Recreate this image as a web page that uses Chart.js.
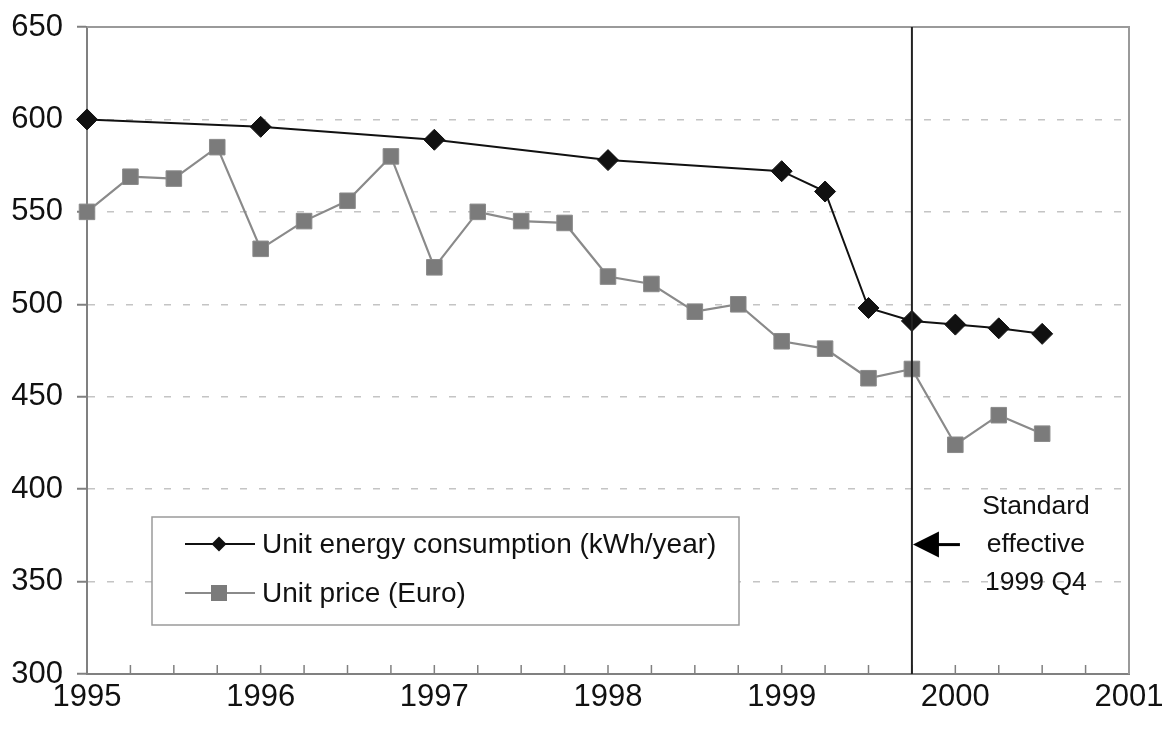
<!DOCTYPE html>
<html>
<head>
<meta charset="utf-8">
<script src="https://cdn.jsdelivr.net/npm/chart.js@4/dist/chart.umd.min.js"></script>
<style>
  html, body { margin: 0; padding: 0; background: #fff; }
  #wrap { width: 1162px; height: 731px; }
</style>
</head>
<body>
<div id="wrap"><canvas id="ctx" width="1162" height="731"></canvas></div>
<script>
// unit energy consumption (kWh/year)
const consumptionX = [1995, 1996, 1997, 1998, 1999, 1999.25, 1999.5, 1999.75, 2000, 2000.25, 2000.5];
const consumptionKwh = [600, 596, 589, 578, 572, 561, 498, 491, 489, 487, 484];

// unit price (Euro), quarterly
const priceX = [1995, 1995.25, 1995.5, 1995.75, 1996, 1996.25, 1996.5, 1996.75,
  1997, 1997.25, 1997.5, 1997.75, 1998, 1998.25, 1998.5, 1998.75,
  1999, 1999.25, 1999.5, 1999.75, 2000, 2000.25, 2000.5];
const priceEuro = [550, 569, 568, 585, 530, 545, 556, 580,
  520, 550, 545, 544, 515, 511, 496, 500,
  480, 476, 460, 465, 424, 440, 430];

const yearTicks = [1995, 1996, 1997, 1998, 1999, 2000, 2001];
const valueTicks = [300, 350, 400, 450, 500, 550, 600, 650];

const standardDate = 1999.75;
const arrowValue = 370;
const standardNote = ['Standard', 'effective', '1999 Q4'];

const FONT = '"Liberation Sans", Arial, sans-serif';
Chart.defaults.font.family = FONT;

// box round the plot, quarter ticks, standard line, arrow, note and legend
const extras = {
  id: 'extras',
  afterDatasetsDraw(chart) {
    const { ctx, chartArea: a, scales: { x, y } } = chart;
    ctx.save();
    ctx.strokeStyle = '#9a9a9a';
    ctx.lineWidth = 2;
    ctx.beginPath();
    ctx.moveTo(a.left, a.top);
    ctx.lineTo(a.right, a.top);
    ctx.lineTo(a.right, a.bottom);
    ctx.stroke();

    // quarter ticks pointing up into the plot
    ctx.strokeStyle = '#808080';
    ctx.lineWidth = 1.5;
    for (let q = x.min + 0.25; q < x.max; q += 0.25) {
      const px = x.getPixelForValue(q);
      ctx.beginPath();
      ctx.moveTo(px, a.bottom);
      ctx.lineTo(px, a.bottom - 9);
      ctx.stroke();
    }

    // standard line
    const sx = x.getPixelForValue(standardDate);
    ctx.strokeStyle = '#222';
    ctx.lineWidth = 2;
    ctx.beginPath();
    ctx.moveTo(sx, a.top);
    ctx.lineTo(sx, a.bottom);
    ctx.stroke();

    // arrow
    const ay = y.getPixelForValue(arrowValue);
    ctx.fillStyle = '#000';
    ctx.beginPath();
    ctx.moveTo(sx + 1, ay);
    ctx.lineTo(sx + 27, ay - 13);
    ctx.lineTo(sx + 27, ay + 13);
    ctx.closePath();
    ctx.fill();
    ctx.fillRect(sx + 26, ay - 1.5, 22, 3);

    // note
    ctx.font = '26.5px ' + FONT;
    ctx.textAlign = 'center';
    ctx.textBaseline = 'middle';
    ctx.fillStyle = '#111';
    standardNote.forEach((t, i) => ctx.fillText(t, sx + 124, ay + (i - 1) * 38));

    // legend box
    const bx = 152, by = 517, bw = 587, bh = 108;
    ctx.fillStyle = '#fff';
    ctx.fillRect(bx, by, bw, bh);
    ctx.strokeStyle = '#9a9a9a';
    ctx.lineWidth = 1.5;
    ctx.strokeRect(bx, by, bw, bh);
    ctx.font = '28px ' + FONT;
    ctx.textAlign = 'left';
    chart.data.datasets.forEach((ds, i) => {
      const ly = by + 27 + i * 49;
      ctx.strokeStyle = ds.borderColor;
      ctx.lineWidth = 2;
      ctx.beginPath();
      ctx.moveTo(bx + 33, ly);
      ctx.lineTo(bx + 103, ly);
      ctx.stroke();
      const mx = bx + 67;
      ctx.fillStyle = ds.backgroundColor;
      ctx.beginPath();
      if (ds.pointStyle === 'rectRot') {
        ctx.moveTo(mx - 7.5, ly); ctx.lineTo(mx, ly - 7.5);
        ctx.lineTo(mx + 7.5, ly); ctx.lineTo(mx, ly + 7.5);
      } else {
        ctx.rect(mx - 8, ly - 8, 16, 16);
      }
      ctx.closePath();
      ctx.fill();
      ctx.fillStyle = '#111';
      ctx.fillText(ds.label, bx + 110, ly + 1);
    });
    ctx.restore();
  }
};

new Chart(document.getElementById('ctx'), {
  type: 'line',
  data: {
    datasets: [{
      label: 'Unit energy consumption (kWh/year)',
      data: consumptionX.map((v, i) => ({ x: v, y: consumptionKwh[i] })),
      borderColor: '#111',
      backgroundColor: '#111',
      borderWidth: 2,
      pointStyle: 'rectRot',
      pointRadius: 10.5,
      pointBorderWidth: 1,
      tension: 0,
      clip: false
    }, {
      label: 'Unit price (Euro)',
      data: priceX.map((v, i) => ({ x: v, y: priceEuro[i] })),
      borderColor: '#8a8a8a',
      backgroundColor: '#7b7b7b',
      borderWidth: 2.2,
      pointStyle: 'rect',
      pointRadius: 11,
      pointBorderWidth: 1,
      tension: 0,
      clip: false
    }]
  },
  options: {
    responsive: false,
    animation: false,
    layout: { padding: { top: 27, right: 33, left: 0, bottom: 0 } },
    plugins: { legend: { display: false }, tooltip: { enabled: false } },
    scales: {
      x: {
        type: 'linear',
        min: 1995,
        max: 2001,
        afterBuildTicks: s => { s.ticks = yearTicks.map(v => ({ value: v })); },
        ticks: { callback: v => String(v), padding: 5, color: '#111', font: { size: 31 }, maxRotation: 0 },
        grid: { drawOnChartArea: false, drawTicks: false },
        border: { color: '#808080', width: 2 },
        afterFit: s => { s.height = 57; s.paddingLeft = 0; s.paddingRight = 0; }
      },
      y: {
        min: 300,
        max: 650,
        afterBuildTicks: s => { s.ticks = valueTicks.map(v => ({ value: v })); },
        ticks: { padding: 14, color: '#111', font: { size: 31 } },
        grid: {
          color: c => (c.tick && (c.tick.value === 300 || c.tick.value === 650)) ? 'rgba(0,0,0,0)' : '#c4c4c4',
          lineWidth: 1.5,
          tickColor: '#808080',
          tickLength: 10,
          tickWidth: 2
        },
        border: { color: '#808080', width: 2, dash: [7, 12] },
        afterFit: s => { s.width = 87; s.paddingTop = 0; s.paddingBottom = 0; }
      }
    }
  },
  plugins: [extras]
});
</script>
</body>
</html>
